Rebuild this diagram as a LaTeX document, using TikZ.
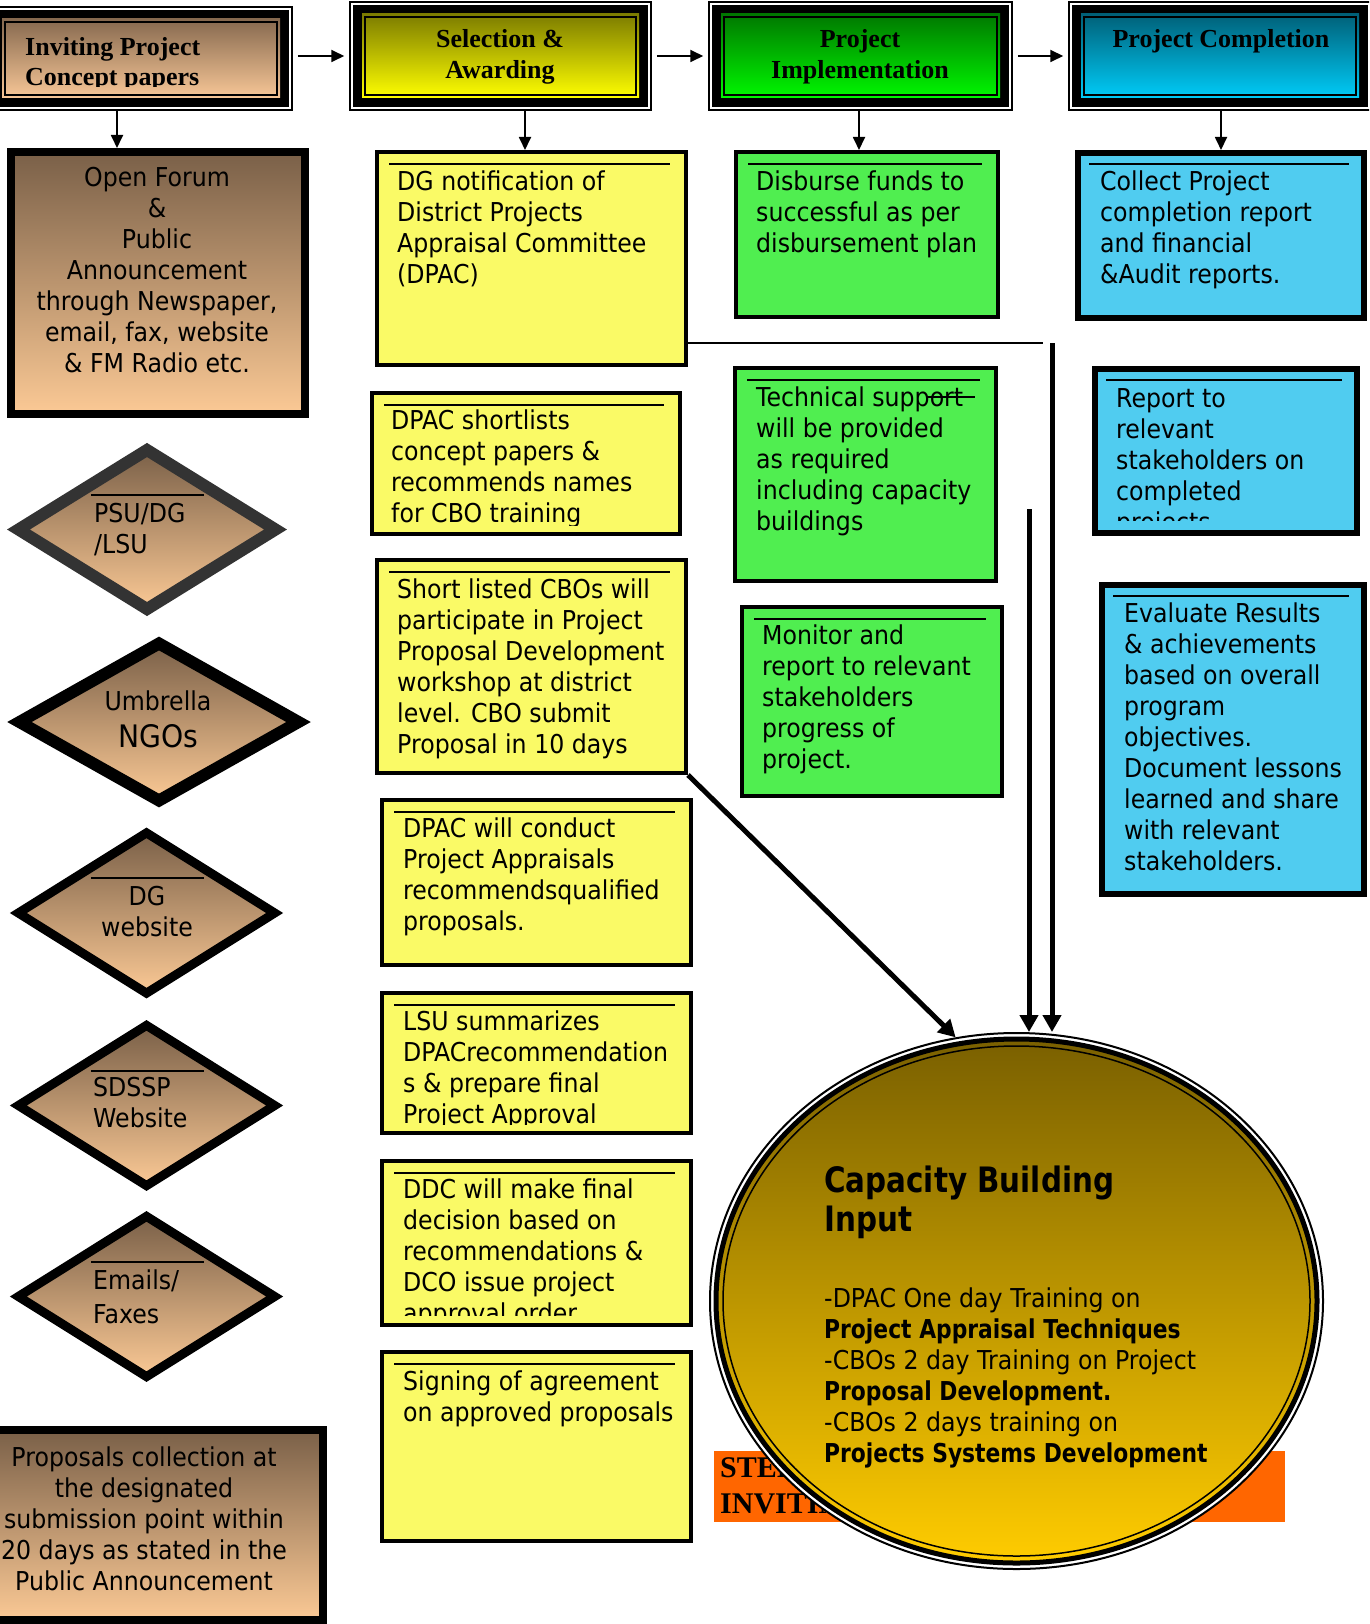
\documentclass[tikz,border=0pt]{standalone}
\usepackage{fontspec}
\setmainfont{DejaVu Sans}[FakeStretch=0.91]
\newfontfamily\bfam{DejaVu Sans}[FakeStretch=0.84]
\newfontfamily\hfont{Liberation Serif}
\usetikzlibrary{shapes.geometric,arrows.meta}
\definecolor{brT}{HTML}{7A6048}
\definecolor{brB}{HTML}{FBC995}
\definecolor{yT}{HTML}{7C7C00}
\definecolor{yB}{HTML}{FFFF00}
\definecolor{gT}{HTML}{007800}
\definecolor{gB}{HTML}{00F800}
\definecolor{cT}{HTML}{006078}
\definecolor{cB}{HTML}{00CCF8}
\definecolor{hbT}{HTML}{86694F}
\definecolor{hbB}{HTML}{F8C797}
\definecolor{yfill}{HTML}{FAFA66}
\definecolor{gfill}{HTML}{50EE50}
\definecolor{bfill}{HTML}{50CCF0}
\definecolor{dgray}{HTML}{333333}
\definecolor{orng}{HTML}{FF6600}
\definecolor{goT}{HTML}{7A6000}
\definecolor{goB}{HTML}{FFCC00}
\newcommand\st{\rule{0pt}{20pt}}
\newcommand\hst{\rule{0pt}{19pt}}
\newcommand\bt[1]{{\bfam\bfseries #1}}
% header: name x1 y1 x2 y2 top bottom
\newcommand\header[7]{%
  \node[hdrout, minimum width={#4-#2}, minimum height={#5-#3}] (#1) at ({(#2+#4)/2},{(#3+#5)/2}) {};
  \draw[line width=9pt] ({#2+7.5},{#3+7.5}) rectangle ({#4-7.5},{#5-7.5});
  \shade[top color=#6, bottom color=#7] ({#2+12},{#3+12}) rectangle ({#4-12},{#5-12});
  \draw[line width=2pt] ({#2+15},{#3+15}) rectangle ({#4-15},{#5-15});
}
% box: name style x1 y1 x2 y2 (border path)
\newcommand\bx[6]{%
  \node[#2, minimum width={#5-#3}, minimum height={#6-#4}] (#1) at ({(#3+#5)/2},{(#4+#6)/2}) {};}
\newcommand\trule[1]{%
  \draw[rulel] ([xshift=14pt,yshift=-14pt]#1.north west) -- ([xshift=-18pt,yshift=-14pt]#1.north east);}
\begin{document}
\begin{tikzpicture}[x=1pt,y=-1pt,
  hdrout/.style={rectangle, draw=black, line width=1.5pt, fill=white, inner sep=0},
  ybox/.style={rectangle, draw=black, line width=4pt, fill=yfill, inner sep=0},
  gbox/.style={rectangle, draw=black, line width=4pt, fill=gfill, inner sep=0},
  bbox/.style={rectangle, draw=black, line width=6pt, fill=bfill, inner sep=0},
  brbox/.style={rectangle, draw=black, line width=8pt, top color=brT, bottom color=brB, inner sep=0},
  dia/.style={diamond, inner sep=0, top color=brT, bottom color=brB},
  rulel/.style={line width=2pt},
  txt/.style={font=\fontsize{26}{31}\selectfont, align=left, inner sep=0, anchor=north west},
  ctxt/.style={font=\fontsize{26}{31}\selectfont, align=center, inner sep=0, anchor=north},
  hdl/.style={font=\hfont\bfseries\fontsize{26}{30}\selectfont, align=left, inner sep=0, anchor=north west},
  hdc/.style={font=\hfont\bfseries\fontsize{26}{31}\selectfont, align=center, inner sep=0, anchor=north},
  arr/.style={line width=1.8pt, -{Triangle[length=13pt,width=12pt]}},
  bigarr/.style={line width=5pt, -{Triangle[length=17pt,width=18pt]}}]
\useasboundingbox (0,0) rectangle (1369,1624);
\clip (0,0) rectangle (1369,1624);
\fill[white] (0,0) rectangle (1369,1624);

% ---------- headers
\header{h1}{-10}{7}{292}{110}{hbT}{hbB}
\header{h2}{350}{2}{651}{110}{yT}{yB}
\header{h3}{709}{2}{1012}{110}{gT}{gB}
\header{h4}{1069}{2}{1371}{110}{cT}{cB}
\begin{scope}
  \clip (5,17) rectangle (277,87);
  \node[hdl] (h1t) at (25,36) {\hst Inviting Project\\Concept papers};
\end{scope}
\node[hdc] (h2t) at (500,28) {\hst Selection \&\\Awarding};
\node[hdc] (h3t) at (860,28) {\hst Project\\Implementation};
\node[hdc] (h4t) at (1221,28) {\hst Project Completion};
\draw[arr, shorten <=5pt, shorten >=5pt] (h2.west -| h1.east) -- (h2.west);
\draw[arr, shorten <=5pt, shorten >=5pt] (h2.east) -- (h3.west);
\draw[arr, shorten <=5pt, shorten >=5pt] (h3.east) -- (h4.west);

% ---------- column 1
\bx{of}{brbox}{11}{152}{305}{414}
\node[ctxt] (oft) at (157,166) {\st Open Forum\\\&\\Public\\Announcement\\through Newspaper,\\email, fax, website\\\& FM Radio etc.};

\node[dia, draw=dgray, line width=12pt, minimum width=262pt, minimum height=164pt] (d1) at (147,529.5) {};
\draw[rulel] (91,495) -- (204,495);
\node[txt] (d1t) at (94,502) {\st PSU/DG\\/LSU};

\node[dia, draw=black, line width=12pt, minimum width=284pt, minimum height=162pt] (d2) at (159,722) {};
\node[ctxt] (d2t) at (158,690) {\st Umbrella};
\node[font=\fontsize{31}{34}\selectfont, inner sep=0, anchor=north] (d2u) at (158,723) {\rule{0pt}{24pt}NGOs};

\node[dia, draw=black, line width=9pt, minimum width=260pt, minimum height=164pt] (d3) at (146.5,913) {};
\draw[rulel] (91,878) -- (204,878);
\node[ctxt] (d3t) at (147,885) {\st DG\\website};

\node[dia, draw=black, line width=9pt, minimum width=260pt, minimum height=164pt] (d4) at (146.5,1105.5) {};
\draw[rulel] (91,1071) -- (204,1071);
\node[txt] (d4t) at (93,1076) {\st SDSSP\\Website};

\node[dia, draw=black, line width=9pt, minimum width=260pt, minimum height=164pt] (d5) at (146.5,1296.5) {};
\draw[rulel] (91,1262) -- (204,1262);
\node[txt] (d5t) at (93,1269) {\st Emails/\\[3pt]Faxes};

\bx{pr}{brbox}{-10}{1430}{323}{1620}
\node[ctxt] (prt) at (144,1446) {\st Proposals collection at\\the designated\\submission point within\\20 days as stated in the\\Public Announcement};

% ---------- column 2 (yellow)
\bx{y1}{ybox}{377}{152}{686}{365}
\trule{y1}
\node[txt] (y1t) at (397,170) {\st DG notification of\\District Projects\\Appraisal Committee\\(DPAC)};

\bx{y2}{ybox}{372}{393}{680}{534}
\trule{y2}
\begin{scope}
  \clip (372,393) rectangle (680,525);
  \node[txt] (y2t) at (391,409) {\st DPAC shortlists\\concept papers \&\\recommends names\\for CBO training};
\end{scope}

\bx{y3}{ybox}{377}{560}{686}{773}
\trule{y3}
\node[txt] (y3t) at (397,578) {\st Short listed CBOs will\\participate in Project\\Proposal Development\\workshop at district\\level. CBO submit\\Proposal in 10 days};

\bx{y4}{ybox}{382}{800}{691}{965}
\trule{y4}
\node[txt] (y4t) at (403,817) {\st DPAC will conduct\\Project Appraisals\\recommendsqualified\\proposals.};

\bx{y5}{ybox}{382}{993}{691}{1133}
\trule{y5}
\begin{scope}
  \clip (382,993) rectangle (691,1124);
  \node[txt] (y5t) at (403,1010) {\st LSU summarizes\\DPACrecommendation\\s \& prepare final\\Project Approval};
\end{scope}

\bx{y6}{ybox}{382}{1161}{691}{1325}
\trule{y6}
\begin{scope}
  \clip (382,1161) rectangle (691,1315);
  \node[txt] (y6t) at (403,1178) {\st DDC will make final\\decision based on\\recommendations \&\\DCO issue project\\approval order};
\end{scope}

\bx{y7}{ybox}{382}{1352}{691}{1541}
\trule{y7}
\node[txt] (y7t) at (403,1370) {\st Signing of agreement\\on approved proposals};

% ---------- column 3 (green)
\bx{g1}{gbox}{736}{152}{998}{317}
\trule{g1}
\node[txt] (g1t) at (756,170) {\st Disburse funds to\\successful as per\\disbursement plan};

\bx{g2}{gbox}{735}{368}{996}{581}
\trule{g2}
\node[txt] (g2t) at (756,386) {\st Technical support\\will be provided\\as required\\including capacity\\buildings};
\draw[line width=1.5pt] (927,397) -- (975,397);

\bx{g3}{gbox}{742}{607}{1002}{796}
\trule{g3}
\node[txt] (g3t) at (762,624) {\st Monitor and\\report to relevant\\stakeholders\\progress of\\project.};

% ---------- column 4 (blue)
\bx{b1}{bbox}{1078}{153}{1364}{318}
\trule{b1}
\node[txt] (b1t) at (1100,170) {\st Collect Project\\completion report\\and financial\\\&Audit reports.};

\bx{b2}{bbox}{1095}{369}{1357}{533}
\trule{b2}
\begin{scope}
  \clip (1095,369) rectangle (1357,520);
  \node[txt] (b2t) at (1116,387) {\st Report to\\relevant\\stakeholders on\\completed\\projects};
\end{scope}

\bx{b3}{bbox}{1102}{585}{1364}{894}
\trule{b3}
\node[txt] (b3t) at (1124,602) {\st Evaluate Results\\\& achievements\\based on overall\\program\\objectives.\\Document lessons\\learned and share\\with relevant\\stakeholders.};

% ---------- down arrows from headers
\coordinate (a1) at (117,0);
\coordinate (a2) at (525,0);
\coordinate (a3) at (859,0);
\coordinate (a4) at (1221,0);
\draw[arr] (a1 |- h1.south) -- (a1 |- of.north);
\draw[arr] (a2 |- h2.south) -- (a2 |- y1.north);
\draw[arr] (a3 |- h3.south) -- (a3 |- g1.north);
\draw[arr] (a4 |- h4.south) -- (a4 |- b1.north);

% ---------- connector lines
\coordinate (hl) at (1043,343);
\coordinate (v1) at (1052,343);
\coordinate (v2) at (1029,509);
\draw[line width=2pt] (y1.east |- hl) -- (hl);

% ---------- orange band (behind circle)
\node[fill=orng, minimum width=571pt, minimum height=71pt, inner sep=0] (orect) at (999.5,1486.5) {};
\node[font=\hfont\bfseries\fontsize{30}{36}\selectfont, align=left, anchor=north west, inner sep=0] (otxt) at (720,1455) {\rule{0pt}{22pt}STEP\\INVITING};

% ---------- circle
\node[ellipse, draw=black, line width=2pt, fill=white, minimum width=613pt, minimum height=536pt, inner sep=0] (circ) at (1016.5,1301) {};
\node[ellipse, draw=black, line width=5pt, top color=goT, bottom color=goB, minimum width=601pt, minimum height=524pt, inner sep=0] (circ2) at (circ.center) {};
\node[ellipse, draw=black, line width=1.5pt, minimum width=587pt, minimum height=510pt, inner sep=0] (circ3) at (circ.center) {};
\node[font=\bfam\bfseries\fontsize{35}{39}\selectfont, align=left, anchor=north west, inner sep=0] (cbt) at (824,1166) {\rule{0pt}{26pt}Capacity Building\\Input};
\node[txt] (cbb) at (824,1287) {\st -DPAC One day Training on\\\bt{Project Appraisal Techniques}\\-CBOs 2 day Training on Project\\\bt{Proposal Development.}\\-CBOs 2 days training on\\\bt{Projects Systems Development}};

% ---------- arrows into circle
\draw[bigarr] (v1) -- (v1 |- circ.north);
\draw[bigarr] (v2) -- (v2 |- circ.north);
\draw[bigarr] (y3.south east) -- (circ.103.6);
\end{tikzpicture}
\end{document}
